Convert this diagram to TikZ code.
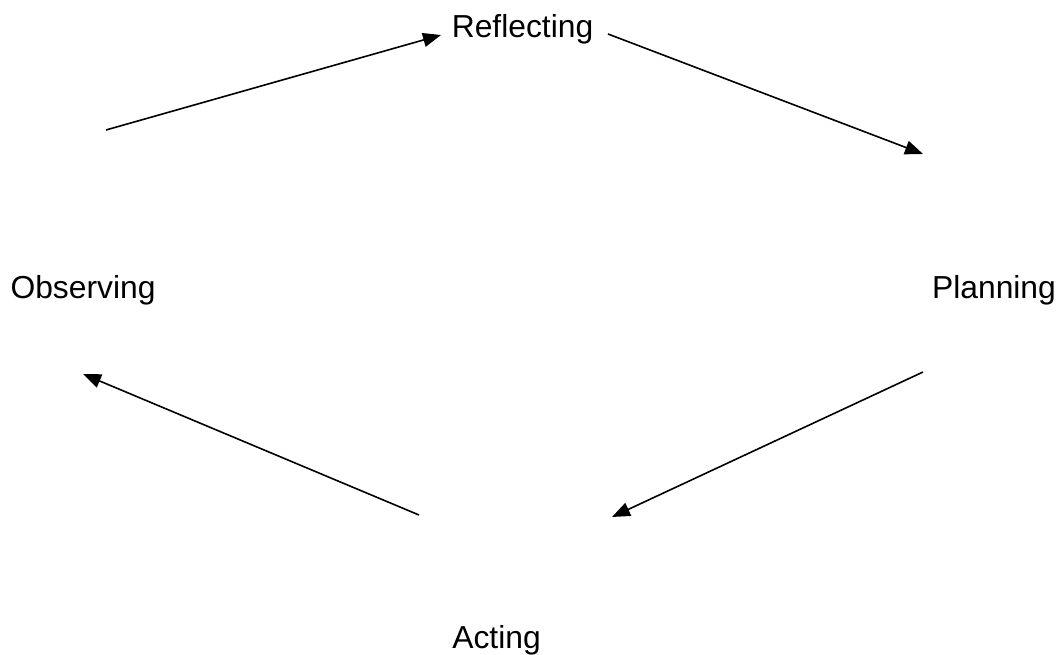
\documentclass[tikz,border=0pt]{standalone}
\usepackage{fontspec}
\setmainfont{Liberation Sans}
\usetikzlibrary{arrows.meta}

\begin{document}
\begin{tikzpicture}[x=1pt,y=-1pt,
	stage/.style={anchor=base,inner sep=0pt,font=\fontsize{31.8}{38}\selectfont},
	cycle/.style={line width=1.6pt,-{Triangle[length=18pt,width=14pt]}}]
 	\useasboundingbox (0,0) rectangle (1061,655);
	\node [stage] (refl) at (522.5,38) {Reflecting};
	\node [stage] (plan) at (994,299) {Planning};
	\node [stage] (act) at (496.5,648) {Acting};
	\node [stage] (obs) at (83,299) {Observing};
	% free ends of the cycle arrows
	\coordinate (o1) at (106,130);
	\coordinate (r1) at (441,35);
	\coordinate (r2) at (608,34);
	\coordinate (p1) at (923,154);
	\coordinate (p2) at (923,372);
	\coordinate (a1) at (612,517);
	\coordinate (a2) at (419,515);
	\coordinate (o2) at (83,374);
	\draw [cycle] (o1) -- (r1);
	\draw [cycle] (r2) -- (p1);
	\draw [cycle] (p2) -- (a1);
	\draw [cycle] (a2) -- (o2);
\end{tikzpicture}
\end{document}
